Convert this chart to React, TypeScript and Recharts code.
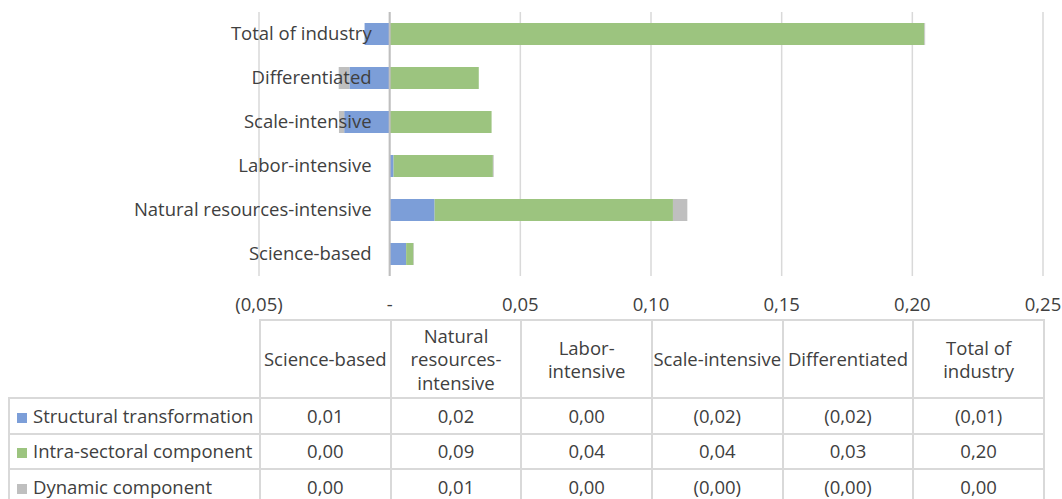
import React from 'react';
import { BarChart, Bar, XAxis, YAxis, CartesianGrid, ReferenceLine } from 'recharts';

const categories = ['Science-based', 'Natural resources-intensive', 'Labor-intensive', 'Scale-intensive', 'Differentiated', 'Total of industry'];
const tableHeaders = [['Science-based'], ['Natural', 'resources-', 'intensive'], ['Labor-', 'intensive'], ['Scale-intensive'], ['Differentiated'], ['Total of', 'industry']];
const structural = [0.0063, 0.0172, 0.0015, -0.0174, -0.0154, -0.0096];
const intraSectoral = [0.0028, 0.0912, 0.038, 0.039, 0.0341, 0.2046];
const dynamic = [0.0002, 0.0055, 0.0003, -0.002, -0.0041, 0.0003];
const xTicks = [-0.05, 0, 0.05, 0.1, 0.15, 0.2, 0.25];

const seriesList = [
    { key: 'structural', name: 'Structural transformation', color: '#7c9ed8', values: structural },
    { key: 'intra', name: 'Intra-sectoral component', color: '#9cc47f', values: intraSectoral },
    { key: 'dynamic', name: 'Dynamic component', color: '#bfbfbf', values: dynamic },
];

const data = categories.map((name, i) => ({
    name,
    structural: structural[i],
    intra: intraSectoral[i],
    dynamic: dynamic[i],
}));

const FONT = '"Open Sans", sans-serif';
const FS = 18.5;
const TEXT = '#404040';
const GRID = '#d9d9d9';

const CHART_W = 1062;
const MARGIN = { top: 12, right: 19, bottom: 14, left: 0 };
const YAXIS_W = 259;
const DOMAIN: [number, number] = [-0.05, 0.25];
const plotLeft = MARGIN.left + YAXIS_W;
const plotWidth = CHART_W - plotLeft - MARGIN.right;
const zeroX = plotLeft + ((0 - DOMAIN[0]) / (DOMAIN[1] - DOMAIN[0])) * plotWidth;

// excel style: negatives in brackets, comma decimals
const fmtNum = (v: number) => {
    const s = Math.abs(v).toFixed(2).replace('.', ',');
    return v < 0 ? `(${s})` : s;
};

const fmtTick = (v: number) => (v === 0 ? '-' : fmtNum(v));

const CategoryTick = (props: any) => {
    const { y, payload } = props;
    return (
        <text x={zeroX - 18} y={y} dy={6} textAnchor="end" fill={TEXT} fontSize={FS} fontFamily={FONT}>
            {payload.value}
        </text>
    );
};

const App: React.FC = () => {
    const colW = plotWidth / categories.length;
    return (
        <div style={{ position: 'absolute', left: 0, top: 0, width: 1062, height: 499, background: '#fff', overflow: 'hidden', fontFamily: FONT }}>
            <BarChart
                width={CHART_W}
                height={320}
                data={data}
                layout="vertical"
                stackOffset="sign"
                margin={MARGIN}
                barSize={22}
            >
                <CartesianGrid horizontal={false} stroke={GRID} strokeWidth={1.5} />
                <XAxis
                    type="number"
                    domain={DOMAIN}
                    ticks={xTicks}
                    tickFormatter={fmtTick}
                    axisLine={false}
                    tickLine={false}
                    tickMargin={16}
                    height={30}
                    interval={0}
                    tick={{ fill: TEXT, fontSize: FS, fontFamily: FONT }}
                />
                {seriesList.map((s) => (
                    <Bar key={s.key} dataKey={s.key} name={s.name} stackId="a" fill={s.color} isAnimationActive={false} />
                ))}
                <ReferenceLine x={0} stroke="#bfbfbf" strokeWidth={2} />
                <YAxis
                    type="category"
                    dataKey="name"
                    reversed
                    width={YAXIS_W}
                    axisLine={false}
                    tickLine={false}
                    interval={0}
                    tick={<CategoryTick />}
                />
            </BarChart>
            <table
                style={{
                    position: 'absolute',
                    left: 8,
                    top: 319,
                    borderCollapse: 'collapse',
                    tableLayout: 'fixed',
                    color: TEXT,
                    fontSize: FS,
                    fontFamily: FONT,
                }}
            >
                <colgroup>
                    <col style={{ width: plotLeft - 8 }} />
                    {categories.map((c) => (
                        <col key={c} style={{ width: colW }} />
                    ))}
                </colgroup>
                <tbody>
                    <tr style={{ height: 78 }}>
                        <td style={{ border: 'none', borderRight: `2px solid ${GRID}`, borderBottom: `2px solid ${GRID}` }} />
                        {tableHeaders.map((lines, i) => (
                            <td key={i} style={{ border: `2px solid ${GRID}`, textAlign: 'center', lineHeight: '23.5px', padding: 0, whiteSpace: 'nowrap', overflow: 'visible' }}>
                                {lines.map((l, j) => (
                                    <div key={j}>{l}</div>
                                ))}
                            </td>
                        ))}
                    </tr>
                    {seriesList.map((s) => (
                        <tr key={s.key} style={{ height: 35.5 }}>
                            <td style={{ border: `2px solid ${GRID}`, padding: '0 0 0 7px', whiteSpace: 'nowrap', lineHeight: '22px' }}>
                                <span style={{ display: 'inline-block', width: 10, height: 10, background: s.color, marginRight: 6 }} />
                                {s.name}
                            </td>
                            {s.values.map((v, i) => (
                                <td key={i} style={{ border: `2px solid ${GRID}`, textAlign: 'center', padding: 0, lineHeight: '22px' }}>
                                    {fmtNum(v)}
                                </td>
                            ))}
                        </tr>
                    ))}
                </tbody>
            </table>
        </div>
    );
};

export default App;
